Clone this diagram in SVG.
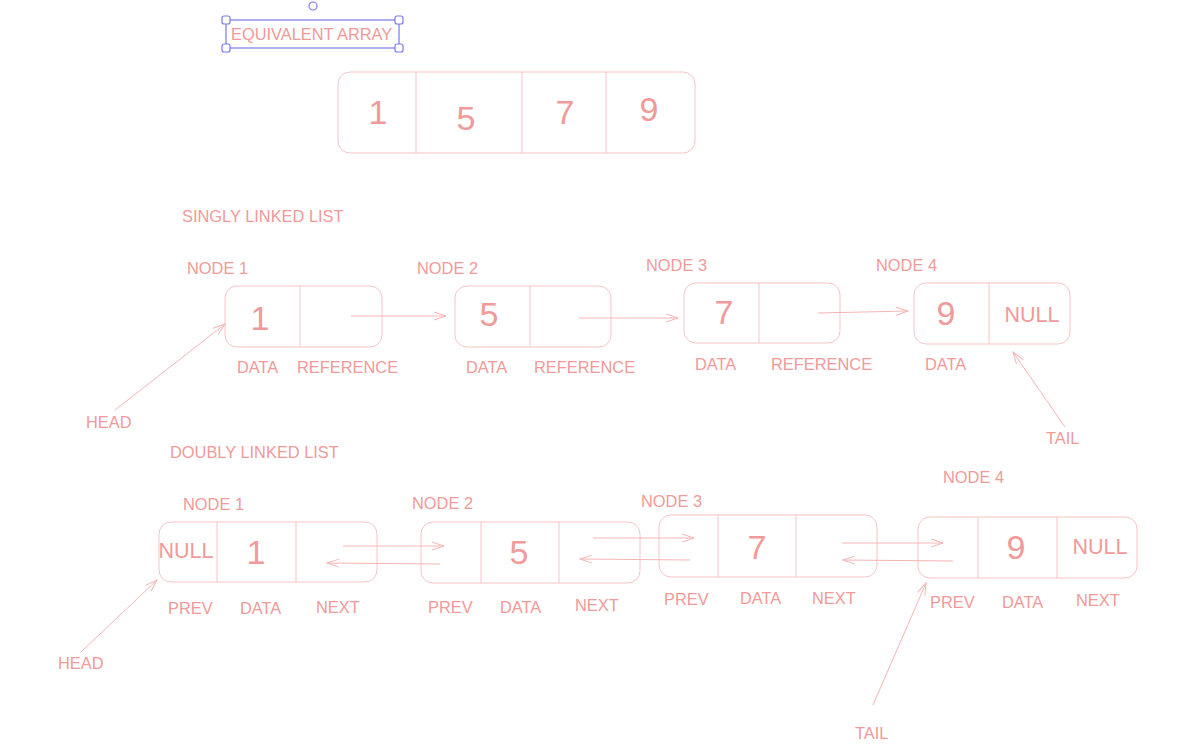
<svg xmlns="http://www.w3.org/2000/svg" width="1183" height="756" viewBox="0 0 1183 756">
<style>
text{font-family:"Liberation Sans",Arial,sans-serif;fill:#f09a9a}
.lbl{font-size:16.4px}
.num{font-size:34px;text-anchor:middle}
.null{font-size:21.5px;text-anchor:middle}
.box{fill:none;stroke:#f7c4c4;stroke-width:1}
.div{stroke:#f7c4c4;stroke-width:1}
.con{stroke:#f5b5b5;stroke-width:1;fill:none;marker-end:url(#ah)}
.sel{fill:none;stroke:#7a7ae6;stroke-width:1.2}
.hdl{fill:#fff;stroke:#7a7ae6;stroke-width:1.2}
</style>
<defs>
<marker id="ah" markerWidth="14" markerHeight="10" refX="13" refY="5" orient="auto" markerUnits="userSpaceOnUse">
<polyline points="1,1 13,5 1,9" fill="none" stroke="#f5b5b5" stroke-width="1"/>
</marker>
</defs>
<rect width="1183" height="756" fill="#fff"/>

<g id="title">
<text class="lbl" x="231" y="40">EQUIVALENT ARRAY</text>
<rect class="sel" x="226" y="20" width="173" height="28"/>
<rect class="hdl" x="222" y="16" width="8" height="8" rx="2"/>
<rect class="hdl" x="395" y="16" width="8" height="8" rx="2"/>
<rect class="hdl" x="222" y="44" width="8" height="8" rx="2"/>
<rect class="hdl" x="395" y="44" width="8" height="8" rx="2"/>
<circle class="hdl" cx="313" cy="6" r="4"/>
</g>

<g id="array">
<rect class="box" x="338" y="72" width="357" height="81" rx="12"/>
<line class="div" x1="416" y1="72" x2="416" y2="153"/>
<line class="div" x1="522" y1="72" x2="522" y2="153"/>
<line class="div" x1="606" y1="72" x2="606" y2="153"/>
<text class="num" x="378" y="124">1</text>
<text class="num" x="466" y="130">5</text>
<text class="num" x="565" y="124">7</text>
<text class="num" x="649" y="121">9</text>
</g>

<text class="lbl" x="182" y="222">SINGLY LINKED LIST</text>

<g id="s1">
<text class="lbl" x="187" y="274">NODE 1</text>
<rect class="box" x="225" y="286" width="157" height="61" rx="12"/>
<line class="div" x1="300" y1="286" x2="300" y2="347"/>
<text class="num" x="260" y="330">1</text>
<text class="lbl" x="237" y="373">DATA</text>
<text class="lbl" x="297" y="373">REFERENCE</text>
</g>
<g id="s2">
<text class="lbl" x="417" y="274">NODE 2</text>
<rect class="box" x="455" y="286" width="156" height="61" rx="12"/>
<line class="div" x1="530" y1="286" x2="530" y2="347"/>
<text class="num" x="489" y="326">5</text>
<text class="lbl" x="466" y="373">DATA</text>
<text class="lbl" x="534" y="373">REFERENCE</text>
</g>
<g id="s3">
<text class="lbl" x="646" y="271">NODE 3</text>
<rect class="box" x="684" y="283" width="156" height="60" rx="12"/>
<line class="div" x1="759" y1="283" x2="759" y2="343"/>
<text class="num" x="724" y="324">7</text>
<text class="lbl" x="695" y="370">DATA</text>
<text class="lbl" x="771" y="370">REFERENCE</text>
</g>
<g id="s4">
<text class="lbl" x="876" y="271">NODE 4</text>
<rect class="box" x="914" y="283" width="156" height="61" rx="12"/>
<line class="div" x1="989" y1="283" x2="989" y2="344"/>
<text class="num" x="946" y="325">9</text>
<text class="null" x="1032" y="322">NULL</text>
<text class="lbl" x="925" y="370">DATA</text>
</g>
<text class="lbl" x="86" y="428">HEAD</text>
<text class="lbl" x="1046" y="444">TAIL</text>

<text class="lbl" x="170" y="458">DOUBLY LINKED LIST</text>

<g id="d1">
<text class="lbl" x="183" y="510">NODE 1</text>
<rect class="box" x="159" y="522" width="218" height="60" rx="12"/>
<line class="div" x1="217" y1="522" x2="217" y2="582"/>
<line class="div" x1="296" y1="522" x2="296" y2="582"/>
<text class="null" x="186" y="558">NULL</text>
<text class="num" x="256" y="564">1</text>
<text class="lbl" x="168" y="614">PREV</text>
<text class="lbl" x="240" y="614">DATA</text>
<text class="lbl" x="316" y="613">NEXT</text>
</g>
<g id="d2">
<text class="lbl" x="412" y="509">NODE 2</text>
<rect class="box" x="421" y="522" width="219" height="61" rx="12"/>
<line class="div" x1="481" y1="522" x2="481" y2="583"/>
<line class="div" x1="559" y1="522" x2="559" y2="583"/>
<text class="num" x="519" y="564">5</text>
<text class="lbl" x="428" y="613">PREV</text>
<text class="lbl" x="500" y="613">DATA</text>
<text class="lbl" x="575" y="611">NEXT</text>
</g>
<g id="d3">
<text class="lbl" x="641" y="507">NODE 3</text>
<rect class="box" x="659" y="515" width="218" height="62" rx="12"/>
<line class="div" x1="718" y1="515" x2="718" y2="577"/>
<line class="div" x1="796" y1="515" x2="796" y2="577"/>
<text class="num" x="757" y="559">7</text>
<text class="lbl" x="664" y="605">PREV</text>
<text class="lbl" x="740" y="604">DATA</text>
<text class="lbl" x="812" y="604">NEXT</text>
</g>
<g id="d4">
<text class="lbl" x="943" y="483">NODE 4</text>
<rect class="box" x="918" y="517" width="219" height="61" rx="12"/>
<line class="div" x1="978" y1="517" x2="978" y2="578"/>
<line class="div" x1="1057" y1="517" x2="1057" y2="578"/>
<text class="num" x="1016" y="559">9</text>
<text class="null" x="1100" y="554">NULL</text>
<text class="lbl" x="930" y="608">PREV</text>
<text class="lbl" x="1002" y="608">DATA</text>
<text class="lbl" x="1076" y="606">NEXT</text>
</g>
<text class="lbl" x="58" y="669">HEAD</text>
<text class="lbl" x="855" y="739">TAIL</text>

<g id="connectors">
<line class="con" x1="351" y1="316" x2="446" y2="316"/>
<line class="con" x1="579" y1="318" x2="678" y2="318"/>
<line class="con" x1="818" y1="313" x2="908" y2="311"/>
<line class="con" x1="115" y1="410" x2="225" y2="324"/>
<line class="con" x1="1065" y1="427" x2="1013" y2="352"/>
<line class="con" x1="343" y1="546" x2="444" y2="546"/>
<line class="con" x1="440" y1="564" x2="327" y2="563"/>
<line class="con" x1="593" y1="538" x2="694" y2="538"/>
<line class="con" x1="690" y1="560" x2="580" y2="559"/>
<line class="con" x1="842" y1="543" x2="943" y2="543"/>
<line class="con" x1="953" y1="561" x2="843" y2="560"/>
<line class="con" x1="81" y1="652" x2="157" y2="580"/>
<line class="con" x1="873" y1="705" x2="926" y2="583"/>
</g>
</svg>
